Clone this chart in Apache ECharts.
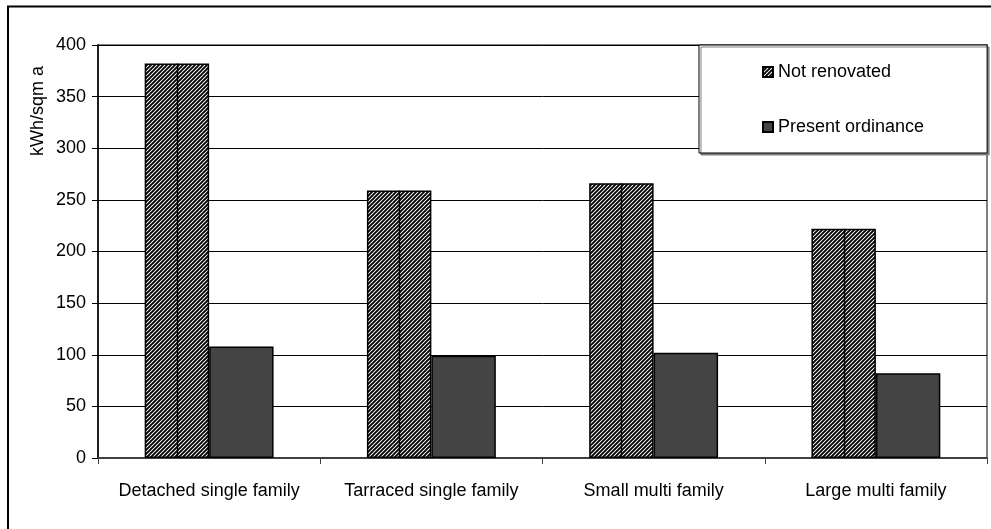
<!DOCTYPE html>
<html>
<head>
<meta charset="utf-8">
<script src="https://cdn.jsdelivr.net/npm/echarts@6/dist/echarts.min.js"></script>
<style>
html,body{margin:0;padding:0;background:#fff;}
#chart{width:991px;height:529px;}
</style>
</head>
<body>
<div id="chart"></div>
<script>
const categories = ['Detached single family', 'Tarraced single family', 'Small multi family', 'Large multi family'];
const notRenovated = [382, 259, 266, 222];
const presentOrdinance = [108, 99, 102, 82];
const yTicks = [0, 50, 100, 150, 200, 250, 300, 350, 400];
const seriesNames = ['Not renovated', 'Present ordinance'];
const yAxisTitle = 'kWh/sqm a';

// hatch pattern tile
const tile = document.createElement('canvas');
tile.width = 4; tile.height = 4;
const c = tile.getContext('2d');
c.fillStyle = '#fff';
c.fillRect(0, 0, 4, 4);
c.strokeStyle = '#000';
c.lineWidth = 1.9;
c.beginPath();
c.moveTo(-1, 5); c.lineTo(5, -1);
c.moveTo(-3, 3); c.lineTo(3, -3);
c.moveTo(1, 7); c.lineTo(7, 1);
c.stroke();

const FONT = "'Liberation Sans', Arial, sans-serif";
const chart = echarts.init(document.getElementById('chart'));

chart.setOption({
  animation: false,
  backgroundColor: '#fff',
  textStyle: { fontFamily: FONT, color: '#000' },
  grid: {
    left: 98, top: 45, right: 4, bottom: 71,
    show: true, borderColor: '#808080', borderWidth: 2, backgroundColor: 'transparent'
  },
  legend: {
    data: seriesNames,
    orient: 'vertical',
    left: 699, top: 45,
    padding: [18, 63, 17, 63],
    itemGap: 37,
    itemWidth: 10, itemHeight: 10,
    icon: 'rect',
    borderColor: '#000', borderWidth: 1,
    backgroundColor: '#fff',
    shadowColor: '#808080', shadowOffsetX: 2, shadowOffsetY: 2, shadowBlur: 0,
    textStyle: { fontSize: 18, fontFamily: FONT, color: '#000' }
  },
  xAxis: {
    type: 'category',
    data: categories,
    axisLine: { lineStyle: { color: '#404040', width: 2 } },
    axisTick: { show: true, interval: 0, length: 6, lineStyle: { color: '#404040', width: 1 } },
    axisLabel: { interval: 0, fontSize: 18, fontFamily: FONT, color: '#000', margin: 24 },
    splitLine: { show: false }
  },
  yAxis: {
    type: 'value',
    min: yTicks[0], max: yTicks[yTicks.length - 1], interval: 50,
    axisLine: { show: true, lineStyle: { color: '#000', width: 1.5 } },
    axisTick: { show: true, length: 6, lineStyle: { color: '#000', width: 1 } },
    axisLabel: { fontSize: 18, fontFamily: FONT, color: '#000', margin: 12 },
    splitLine: { show: true, lineStyle: { color: '#000', width: 1 } }
  },
  graphic: [
    {
      type: 'text', x: 38, y: 111, rotation: Math.PI / 2,
      style: { text: yAxisTitle, fontSize: 18, fontFamily: FONT, fill: '#000', align: 'center', verticalAlign: 'middle' }
    },
    {
      type: 'rect', silent: true,
      shape: { x: 8, y: 6.5, width: 1100, height: 700 },
      style: { fill: 'none', stroke: '#000', lineWidth: 2 }
    }
  ],
  series: [
    {
      name: seriesNames[0],
      type: 'bar',
      data: notRenovated,
      barGap: '0%',
      barCategoryGap: '42%',
      itemStyle: { color: { image: tile, repeat: 'repeat' }, borderColor: '#000', borderWidth: 1.5 }
    },
    {
      name: seriesNames[1],
      type: 'bar',
      data: presentOrdinance,
      barGap: '0%',
      barCategoryGap: '42%',
      itemStyle: { color: '#444444', borderColor: '#000', borderWidth: 1.5 }
    },
    {
      type: 'custom',
      z: 5,
      silent: true,
      data: notRenovated.map((v, i) => [i, v]),
      renderItem: function (params, api) {
        const idx = api.value(0);
        const v = api.value(1);
        const p0 = api.coord([idx, 0]);
        const p1 = api.coord([idx, v]);
        const bw = api.size([1, 0])[0];
        const x = Math.round(p0[0] - bw * 0.145) + 0.5;
        return {
          type: 'line',
          shape: { x1: x, y1: p0[1], x2: x, y2: p1[1] },
          style: { stroke: '#000', lineWidth: 1.5 }
        };
      }
    }
  ]
});
</script>
</body>
</html>
